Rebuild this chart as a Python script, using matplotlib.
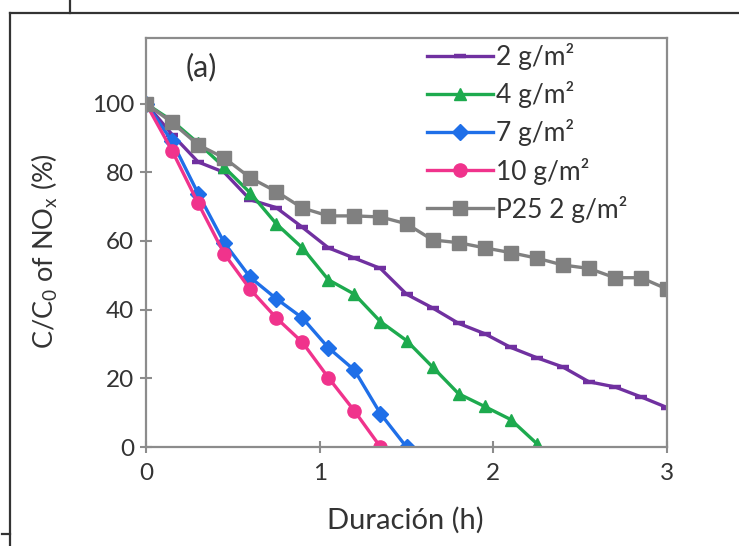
import matplotlib
matplotlib.use("Agg")
import matplotlib.pyplot as plt
from matplotlib.lines import Line2D

plt.rcParams['font.family'] = ['Lato', 'DejaVu Sans']

# sampling times (h)
t_full = [0, 0.15, 0.3, 0.45, 0.6, 0.75, 0.9, 1.05, 1.2, 1.35, 1.5, 1.65,
          1.8, 1.95, 2.1, 2.25, 2.4, 2.55, 2.7, 2.85, 3.0]
t_4 = [0, 0.15, 0.3, 0.45, 0.6, 0.75, 0.9, 1.05, 1.2, 1.35, 1.5, 1.65,
       1.8, 1.95, 2.1, 2.25]
t_7 = [0, 0.15, 0.3, 0.45, 0.6, 0.75, 0.9, 1.05, 1.2, 1.35, 1.5]
t_10 = [0, 0.15, 0.3, 0.45, 0.6, 0.75, 0.9, 1.05, 1.2, 1.35]

# C/C0 of NOx (%)
nox_2 = [100, 91, 83, 80, 72, 69.7, 64, 58, 55, 52, 44.5, 40.5, 36, 33,
         29, 26, 23.3, 19, 17.5, 14.6, 11.5]
nox_4 = [100, 95, 88.5, 81.5, 74, 65, 58, 48.7, 44.5, 36.5, 31, 23.3,
         15.5, 11.8, 8, 1]
nox_7 = [100, 89, 73.8, 59.5, 49.4, 43.2, 37.6, 28.9, 22.4, 9.7, 0]
nox_10 = [100, 86.3, 71, 56.3, 45.9, 37.6, 30.5, 20.2, 10.5, 0]
nox_p25 = [100, 94.5, 88, 84.2, 78.4, 74.4, 69.6, 67.3, 67.3, 67, 65, 60.3,
           59.5, 58, 56.6, 55, 53, 52, 49.3, 49.3, 46]

labels = ['2 g/m\u00b2', '4 g/m\u00b2', '7 g/m\u00b2', '10 g/m\u00b2', 'P25 2 g/m\u00b2']

txt = '#333333'
fig = plt.figure(figsize=(7.39, 5.46), dpi=100)
ax = fig.add_axes([0.1976, 0.1813, 0.705, 0.7497])

ax.plot(t_full, nox_2, color='#7030A0', lw=2.4, marker='_', ms=8, mew=3.2, label=labels[0])
ax.plot(t_4, nox_4, color='#1DAA4E', lw=2.4, marker='^', ms=9, label=labels[1])
ax.plot(t_7, nox_7, color='#1F6FE8', lw=2.4, marker='D', ms=8.5, label=labels[2])
ax.plot(t_10, nox_10, color='#F0338C', lw=2.4, marker='o', ms=9.5, label=labels[3])
ax.plot(t_full, nox_p25, color='#808080', lw=2.4, marker='s', ms=10, label=labels[4])

ax.set_xlim(0, 3)
ax.set_ylim(0, 119.2)
ax.set_xticks([0, 1, 2, 3])
ax.set_yticks([0, 20, 40, 60, 80, 100])
for s in ax.spines.values():
    s.set_color('#8c8c8c')
    s.set_linewidth(1.6)
ax.tick_params(direction='inout', length=9, width=1.5, color='#8c8c8c',
               labelsize=17.5, labelcolor=txt, pad=4)
ax.tick_params(axis='x', pad=7)

ax.set_xlabel('Duración (h)', fontsize=21, color=txt)
ax.set_ylabel(r'C/C$\mathregular{_0}$ of NO$\mathregular{_x}$ (%)', fontsize=19.5, color=txt)
ax.xaxis.set_label_coords(0.497, -0.145)
ax.yaxis.set_label_coords(-0.165, 0.48)

ax.text(0.107, 0.927, '(a)', transform=ax.transAxes, fontsize=22, color=txt,
        ha='center', va='center')

ax.legend(loc='upper left', bbox_to_anchor=(0.52, 1.012), frameon=False,
          fontsize=19, handlelength=2.5, handletextpad=0.1, labelspacing=0.42,
          borderaxespad=0, labelcolor=txt)

# screenshot frame lines
fig.add_artist(Line2D([10 / 739, 1.0], [1 - 13 / 546, 1 - 13 / 546], color='#333333', lw=1.6))
fig.add_artist(Line2D([10 / 739, 10 / 739], [1 - 13 / 546, 0.0], color='#333333', lw=1.6))
fig.add_artist(Line2D([70 / 739, 70 / 739], [1 - 13 / 546, 1.0], color='#333333', lw=1.6))
fig.add_artist(Line2D([2 / 739, 10 / 739], [1 - 534 / 546, 1 - 534 / 546], color='#333333', lw=1.6))

fig.savefig('out.png', dpi=100)
